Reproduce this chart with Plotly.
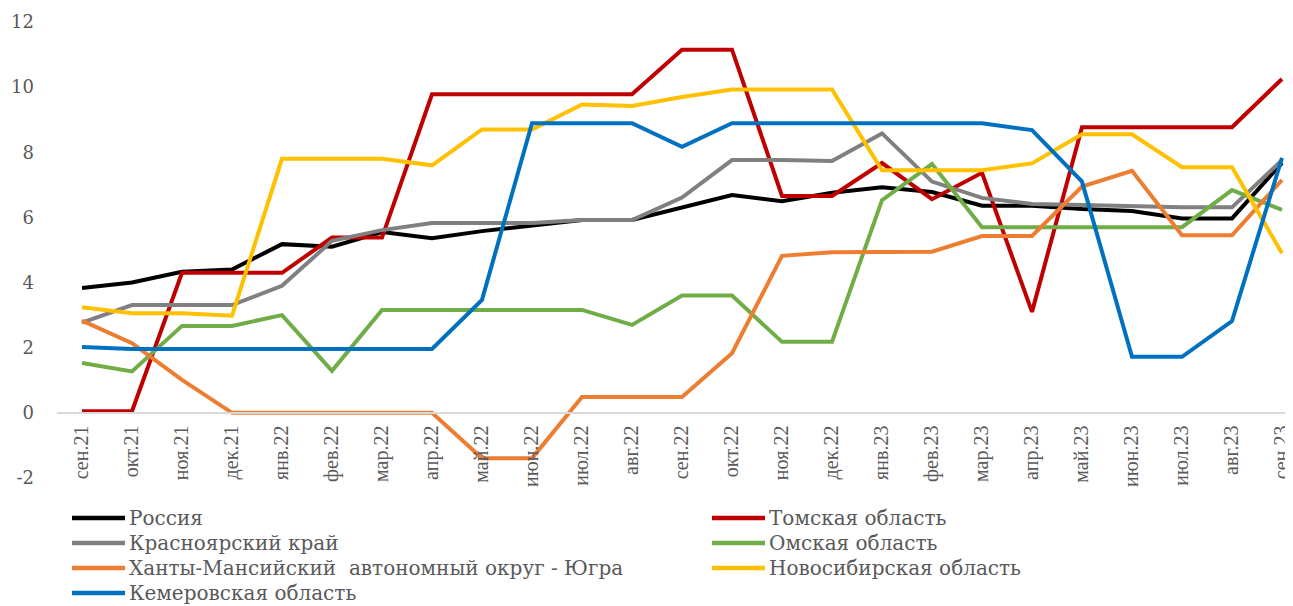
import plotly.graph_objects as go

months = ["сен.21", "окт.21", "ноя.21", "дек.21", "янв.22", "фев.22", "мар.22", "апр.22",
          "май.22", "июн.22", "июл.22", "авг.22", "сен.22", "окт.22", "ноя.22", "дек.22",
          "янв.23", "фев.23", "мар.23", "апр.23", "май.23", "июн.23", "июл.23", "авг.23", "сен.23"]

russia = [3.83, 4.0, 4.33, 4.4, 5.18, 5.1, 5.55, 5.36, 5.58, 5.74, 5.92, 5.92, 6.3, 6.69, 6.5, 6.76,
          6.93, 6.78, 6.36, 6.36, 6.26, 6.2, 5.97, 5.97, 7.67]
tomsk = [0.05, 0.05, 4.3, 4.3, 4.3, 5.38, 5.38, 9.78, 9.78, 9.78, 9.78, 9.78, 11.15, 11.15, 6.66, 6.66,
         7.67, 6.56, 7.37, 3.1, 8.77, 8.77, 8.77, 8.77, 10.25]
krasnoyarsk = [2.77, 3.31, 3.31, 3.31, 3.9, 5.28, 5.61, 5.83, 5.83, 5.83, 5.92, 5.92, 6.61, 7.76, 7.76, 7.73,
               8.58, 7.1, 6.6, 6.41, 6.38, 6.33, 6.31, 6.31, 7.76]
omsk = [1.53, 1.27, 2.67, 2.67, 3.0, 1.29, 3.16, 3.16, 3.16, 3.16, 3.16, 2.7, 3.6, 3.6, 2.18, 2.18,
        6.53, 7.64, 5.7, 5.7, 5.7, 5.7, 5.7, 6.84, 6.23]
khmao = [2.83, 2.14, 1.01, 0.0, 0.0, 0.0, 0.0, 0.0, -1.39, -1.39, 0.49, 0.49, 0.49, 1.83, 4.82, 4.93,
         4.95, 4.95, 5.43, 5.43, 6.95, 7.43, 5.45, 5.45, 7.15]
novosib = [3.24, 3.06, 3.06, 2.98, 7.8, 7.8, 7.8, 7.6, 8.7, 8.7, 9.47, 9.42, 9.7, 9.93, 9.93, 9.93,
           7.45, 7.45, 7.45, 7.66, 8.55, 8.55, 7.54, 7.54, 4.9]
kemerovo = [2.02, 1.96, 1.96, 1.96, 1.96, 1.96, 1.96, 1.96, 3.47, 8.89, 8.89, 8.89, 8.17, 8.89, 8.89, 8.89,
            8.89, 8.89, 8.89, 8.68, 7.1, 1.72, 1.72, 2.82, 7.83]

y_ticks = [-2, 0, 2, 4, 6, 8, 10, 12]
y_tick_text = ["-2", "0", "2", "4", "6", "8", "10", "12"]

series = [
    ("Россия", russia, "#000000"),
    ("Томская область", tomsk, "#C00000"),
    ("Красноярский край", krasnoyarsk, "#808080"),
    ("Омская область", omsk, "#70AD47"),
    ("Ханты-Мансийский  автономный округ - Югра", khmao, "#ED7D31"),
    ("Новосибирская область", novosib, "#FFC000"),
    ("Кемеровская область", kemerovo, "#0070C0"),
]

# the html page keeps an 8px body margin, so the figure is sized to sit inside the window
W, H = 1285, 598
L, T, B = 49, 14, 128          # plot box in figure pixels
PW, PH = W - L, H - T - B

def px_x(px):
    return (px - L) / PW

def px_y(py):
    return (H - B - py) / PH

grey = "#595959"
serif_wide = dict(family="DejaVu Serif", size=18, color=grey)
serif_tick = dict(family="Liberation Serif", size=20, color=grey)

fig = go.Figure()
for name, vals, color in series:
    fig.add_trace(go.Scatter(
        x=months, y=vals, name=name, mode="lines",
        line=dict(color=color, width=4), hoverinfo="skip", showlegend=False
    ))

# legend drawn by hand, two columns like the original
for i, (name, vals, color) in enumerate(series):
    col, row = i % 2, i // 2
    x0 = 64 if col == 0 else 704
    ry = 510 + row * 25
    fig.add_shape(type="line", xref="paper", yref="paper",
                  x0=px_x(x0), x1=px_x(x0 + 53), y0=px_y(ry), y1=px_y(ry),
                  line=dict(color=color, width=4.5))
    fig.add_annotation(xref="paper", yref="paper", x=px_x(x0 + 55), y=px_y(ry),
                       xanchor="left", yanchor="middle", text=name, showarrow=False,
                       font=dict(family="DejaVu Serif", size=20, color=grey))

fig.update_layout(
    width=W, height=H,
    plot_bgcolor="white", paper_bgcolor="white",
    margin=dict(l=L, r=0, t=T, b=B, autoexpand=False),
    showlegend=False,
    xaxis=dict(
        type="category", range=[-0.5, 24.22],
        anchor="free", position=2 / 14,
        showline=True, linecolor="#D9D9D9", linewidth=1.5,
        showgrid=False, ticks="", tickangle=-90,
        tickfont=serif_tick, ticklabelstandoff=4,
    ),
    yaxis=dict(
        range=[-2, 12], tickvals=y_ticks, ticktext=y_tick_text,
        showgrid=False, zeroline=False, showline=False,
        tickfont=serif_wide, ticklabelstandoff=22,
    ),
)

fig.write_html("out.html")
